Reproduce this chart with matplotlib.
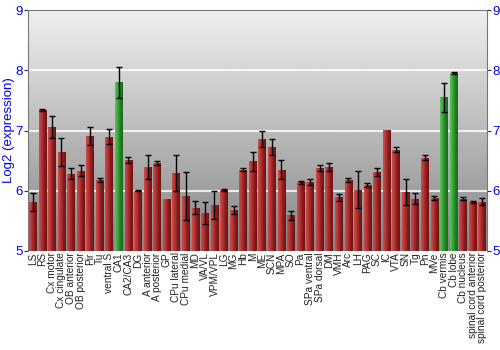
import numpy as np
import matplotlib
matplotlib.use("Agg")
import matplotlib.pyplot as plt
from matplotlib.patches import Rectangle

plt.rcParams['font.family'] = ['Liberation Sans', 'DejaVu Sans']

regions = ["LS", "RS", "Cx motor", "Cx cingulate", "OB anterior", "OB posterior",
           "Pir", "Tu", "ventral S", "CA1", "CA2/CA3", "DG", "A anterior",
           "A posterior", "GP", "CPu lateral", "CPu medial", "MD", "VA/VL",
           "VPM/VPL", "LG", "MG", "Hb", "M", "ME", "SCN", "MPA", "SO", "Pa",
           "SPa ventral", "SPa dorsal", "DM", "VMH", "Arc", "LH", "PAG", "SC",
           "IC", "VTA", "SN", "Tg", "Pn", "MVe", "Cb vermis", "Cb lobe",
           "Cb nucleus", "spinal cord anterior", "spinal cord posterior"]
values = [5.81, 7.34, 7.06, 6.64, 6.28, 6.33, 6.91, 6.18, 6.90, 7.80,
          6.51, 6.00, 6.39, 6.46, 5.86, 6.30, 5.91, 5.72, 5.63, 5.76,
          6.01, 5.68, 6.35, 6.49, 6.86, 6.73, 6.35, 5.59, 6.14, 6.14,
          6.38, 6.39, 5.89, 6.18, 6.02, 6.10, 6.31, 7.01, 6.68, 5.98,
          5.87, 6.55, 5.88, 7.55, 7.96, 5.87, 5.81, 5.82]
errors = [0.15, 0.02, 0.19, 0.23, 0.09, 0.09, 0.15, 0.04, 0.12, 0.26,
          0.05, 0.01, 0.20, 0.04, 0.0, 0.30, 0.40, 0.11, 0.18, 0.23,
          0.02, 0.07, 0.02, 0.16, 0.13, 0.13, 0.16, 0.07, 0.02, 0.05,
          0.05, 0.07, 0.06, 0.04, 0.30, 0.03, 0.06, 0.0, 0.04, 0.21,
          0.09, 0.04, 0.04, 0.24, 0.02, 0.03, 0.02, 0.06]
highlight = ["CA1", "Cb vermis", "Cb lobe"]

fig = plt.figure(figsize=(5, 3.5), dpi=100)
ax = fig.add_axes([0.056, 0.283, 0.918, 0.688])

ymin, ymax = 5, 9
n = len(regions)
xlo, xhi = -0.5, n - 0.5
ax.set_xlim(xlo, xhi)
ax.set_ylim(ymin, ymax)

# background vertical gradient
bg = np.linspace(0.94, 0.52, 256).reshape(-1, 1)
ax.imshow(bg, cmap='gray', vmin=0, vmax=1, aspect='auto',
          extent=[xlo, xhi, ymin, ymax], origin='upper', zorder=0)
for g in [6, 7, 8]:
    ax.axhline(g, color='white', lw=1.5, alpha=0.8, zorder=1)

# bars with horizontal shading
red = matplotlib.colors.LinearSegmentedColormap.from_list(
    'r', ['#c85050', '#b83434', '#8a1c1c', '#6e1414'])
green = matplotlib.colors.LinearSegmentedColormap.from_list(
    'g', ['#5cc45c', '#3aa83a', '#237f23', '#1c6a1c'])
grad = np.linspace(0, 1, 64).reshape(1, -1)
w = 0.8
for i, (name, v, e) in enumerate(zip(regions, values, errors)):
    cm = green if name in highlight else red
    x0 = i - w / 2
    im = ax.imshow(grad, cmap=cm, aspect='auto',
                   extent=[x0, x0 + w, ymin, v], zorder=2)
    rect = Rectangle((x0, ymin), w, v - ymin, transform=ax.transData,
                     facecolor='none', edgecolor='none')
    ax.add_patch(rect)
    im.set_clip_path(rect)
    if e > 0:
        ax.errorbar(i, v, yerr=e, fmt='none', ecolor='black', elinewidth=1,
                    capsize=2, capthick=1, zorder=3)

ax.set_xlim(xlo, xhi)
ax.set_ylim(ymin, ymax)
ax.set_xticks(range(n))
ax.set_xticklabels(regions, rotation=90, fontsize=7.3, color='#222222')
ax.tick_params(axis='x', length=0, pad=1)
ax.set_yticks([5, 6, 7, 8, 9])
ax.tick_params(axis='y', colors='#333333', labelcolor='#0000ee',
               labelsize=9.5, length=3, pad=1, right=True, labelright=True)
ax.set_ylabel("Log2 (expression)", color='#0000ee', fontsize=9.5, labelpad=0)

for s in ['left', 'top', 'right']:
    ax.spines[s].set_color('#777777')
ax.spines['bottom'].set_visible(False)

plt.savefig('out.png', dpi=100)
